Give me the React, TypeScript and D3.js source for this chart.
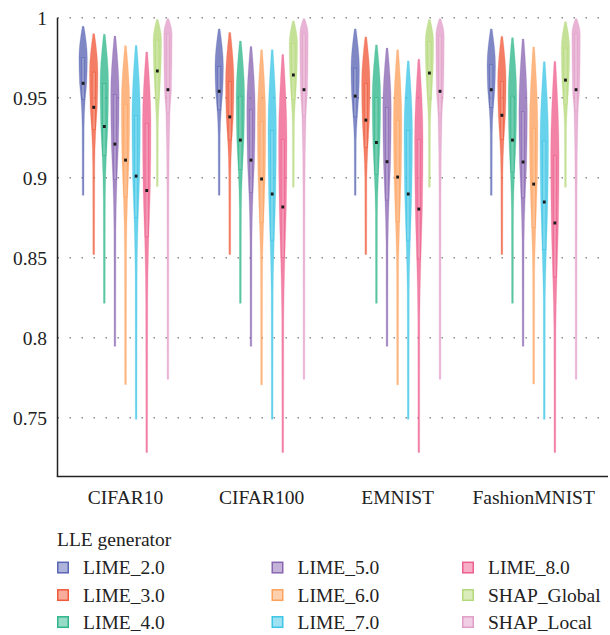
import React, { useRef, useEffect } from 'react';
import * as d3 from 'd3';

const categories = ['CIFAR10', 'CIFAR100', 'EMNIST', 'FashionMNIST'];
const generators = ['LIME_2.0', 'LIME_3.0', 'LIME_4.0', 'LIME_5.0', 'LIME_6.0', 'LIME_7.0', 'LIME_8.0', 'SHAP_Global', 'SHAP_Local'];
const colors = ['#5b67b5', '#ef5a3a', '#30b68b', '#8966b2', '#fda15e', '#3cc5e6', '#ee5f8d', '#b5d97a', '#e19ec8'];
const yTicks = [0.75, 0.8, 0.85, 0.9, 0.95, 1];

// rows = generators, columns = datasets
const maxVals = [
  [0.9946, 0.993, 0.993, 0.993],
  [0.990, 0.9908, 0.988, 0.9883],
  [0.9896, 0.9854, 0.983, 0.9875],
  [0.9885, 0.982, 0.981, 0.9867],
  [0.9825, 0.980, 0.980, 0.9817],
  [0.9827, 0.980, 0.973, 0.9725],
  [0.9786, 0.977, 0.974, 0.9727],
  [0.9988, 0.998, 0.9988, 0.9975],
  [0.9994, 0.9994, 0.9994, 0.9994],
];
const q3Vals = [
  [0.975, 0.9696, 0.9685, 0.9706],
  [0.966, 0.960, 0.959, 0.960],
  [0.959, 0.951, 0.950, 0.951],
  [0.952, 0.9424, 0.944, 0.9414],
  [0.946, 0.935, 0.936, 0.931],
  [0.939, 0.9295, 0.9295, 0.923],
  [0.934, 0.924, 0.924, 0.914],
  [0.986, 0.984, 0.985, 0.981],
  [0.990, 0.990, 0.989, 0.990],
];
const medianVals = [
  [0.959, 0.954, 0.951, 0.955],
  [0.944, 0.938, 0.936, 0.939],
  [0.932, 0.9235, 0.922, 0.9235],
  [0.921, 0.911, 0.910, 0.9098],
  [0.911, 0.8992, 0.9004, 0.896],
  [0.901, 0.8898, 0.8898, 0.8848],
  [0.892, 0.8817, 0.8804, 0.8717],
  [0.9667, 0.9642, 0.9654, 0.961],
  [0.955, 0.955, 0.954, 0.955],
];
const q1Vals = [
  [0.949, 0.9424, 0.938, 0.944],
  [0.930, 0.9236, 0.919, 0.924],
  [0.914, 0.905, 0.902, 0.9035],
  [0.899, 0.8906, 0.886, 0.8874],
  [0.888, 0.872, 0.8725, 0.869],
  [0.875, 0.861, 0.861, 0.855],
  [0.863, 0.850, 0.849, 0.838],
  [0.949, 0.949, 0.949, 0.946],
  [0.941, 0.939, 0.940, 0.942],
];
const minVals = [
  [0.889, 0.889, 0.889, 0.889],
  [0.852, 0.852, 0.852, 0.852],
  [0.8215, 0.8215, 0.8215, 0.8215],
  [0.7946, 0.7946, 0.7946, 0.7946],
  [0.7708, 0.7706, 0.7706, 0.771],
  [0.749, 0.749, 0.749, 0.749],
  [0.7283, 0.7283, 0.7283, 0.7283],
  [0.8945, 0.894, 0.894, 0.894],
  [0.774, 0.774, 0.774, 0.774],
];

const FONT = 'Liberation Serif';
const FS = 19.5;

const App = () => {
  const ref = useRef(null);

  useEffect(() => {
    const svg = d3.select(ref.current);
    svg.selectAll('*').remove();

    const left = 57.5, top = 17.7, bottom = 476.5, right = 608;

    const y = d3.scaleLinear().domain([0.71325, 1]).range([bottom, top]);
    const x = d3.scaleBand().domain(categories).range([left, 601.7]);
    const inner = d3.scalePoint().domain(generators).range([-42.4, 42.4]);

    // dotted grid
    svg.append('g')
      .selectAll('line')
      .data(yTicks)
      .enter()
      .append('line')
      .attr('x1', left).attr('x2', right)
      .attr('y1', d => y(d)).attr('y2', d => y(d))
      .attr('stroke', '#8a8a8a')
      .attr('stroke-width', 1.5)
      .attr('stroke-dasharray', '1.5 10.5');

    // y tick labels
    svg.append('g')
      .selectAll('text')
      .data(yTicks)
      .enter()
      .append('text')
      .attr('x', 47)
      .attr('y', d => y(d))
      .attr('dy', '0.35em')
      .attr('text-anchor', 'end')
      .attr('font-family', FONT)
      .attr('font-size', FS)
      .attr('fill', '#222')
      .text(d => (d === 1 ? '1' : String(d)));

    const W = 4.2;
    const area = d3.area()
      .y(d => y(d.v))
      .x0(d => d.cx - d.w)
      .x1(d => d.cx + d.w)
      .curve(d3.curveMonotoneY);

    const g = svg.append('g');
    categories.forEach((cat, ci) => {
      generators.forEach((gen, gi) => {
        const cx = x(cat) + x.bandwidth() / 2 + inner(gen);
        const c = colors[gi];
        const mn = minVals[gi][ci], q1 = q1Vals[gi][ci], md = medianVals[gi][ci];
        const q3 = q3Vals[gi][ci], mx = maxVals[gi][ci];
        const pts = [
          { v: mn, w: 0.85 },
          { v: q1 - (q1 - mn) * 0.3, w: 1.0 },
          { v: q1, w: 0.5 * W },
          { v: md, w: 0.85 * W },
          { v: q3, w: W },
          { v: mx, w: 0.85 },
        ].map(p => ({ ...p, cx }));

        g.append('path')
          .attr('d', area(pts))
          .attr('fill', c)
          .attr('fill-opacity', 0.78)
          .attr('stroke', c)
          .attr('stroke-opacity', 0.3)
          .attr('stroke-width', 0.8);

        // inner quartile box
        g.append('rect')
          .attr('x', cx - 1.6)
          .attr('width', 3.2)
          .attr('y', y(q3))
          .attr('height', y(q1) - y(q3))
          .attr('fill', '#fff')
          .attr('fill-opacity', 0.15)
          .attr('stroke', c)
          .attr('stroke-width', 0.6);

        g.append('rect')
          .attr('x', cx - 1.4)
          .attr('y', y(md) - 1.5)
          .attr('width', 2.8)
          .attr('height', 3)
          .attr('fill', '#1a1a1a');
      });
    });

    // axes lines
    svg.append('line')
      .attr('x1', left).attr('x2', left)
      .attr('y1', top).attr('y2', bottom)
      .attr('stroke', '#222').attr('stroke-width', 1.5);
    svg.append('line')
      .attr('x1', left - 0.75).attr('x2', right)
      .attr('y1', bottom).attr('y2', bottom)
      .attr('stroke', '#222').attr('stroke-width', 1.5);

    // category labels
    svg.append('g')
      .selectAll('text')
      .data(categories)
      .enter()
      .append('text')
      .attr('x', d => x(d) + x.bandwidth() / 2)
      .attr('y', 504)
      .attr('text-anchor', 'middle')
      .attr('font-family', FONT)
      .attr('font-size', FS)
      .attr('fill', '#222')
      .text(d => d);

    // legend
    const legend = svg.append('g');
    legend.append('text')
      .attr('x', 57).attr('y', 546)
      .attr('font-family', FONT)
      .attr('font-size', FS)
      .attr('fill', '#222')
      .text('LLE generator');

    const colX = [57, 271.5, 462];
    const rowY = [567.5, 595, 622];
    generators.forEach((gen, i) => {
      const col = Math.floor(i / 3), row = i % 3;
      const lx = colX[col], ly = rowY[row];
      legend.append('rect')
        .attr('x', lx + 0.75).attr('y', ly - 5.2)
        .attr('width', 10.5).attr('height', 10.5)
        .attr('fill', colors[i]).attr('fill-opacity', 0.5)
        .attr('stroke', colors[i]).attr('stroke-width', 1.5);
      legend.append('text')
        .attr('x', lx + 26).attr('y', ly)
        .attr('dy', '0.35em')
        .attr('font-family', FONT)
        .attr('font-size', FS)
        .attr('fill', '#222')
        .text(gen);
    });
  }, []);

  return (
    <svg ref={ref} width={610} height={635}
      style={{ position: 'absolute', left: 0, top: 0, background: '#fff' }}></svg>
  );
};

export default App;
